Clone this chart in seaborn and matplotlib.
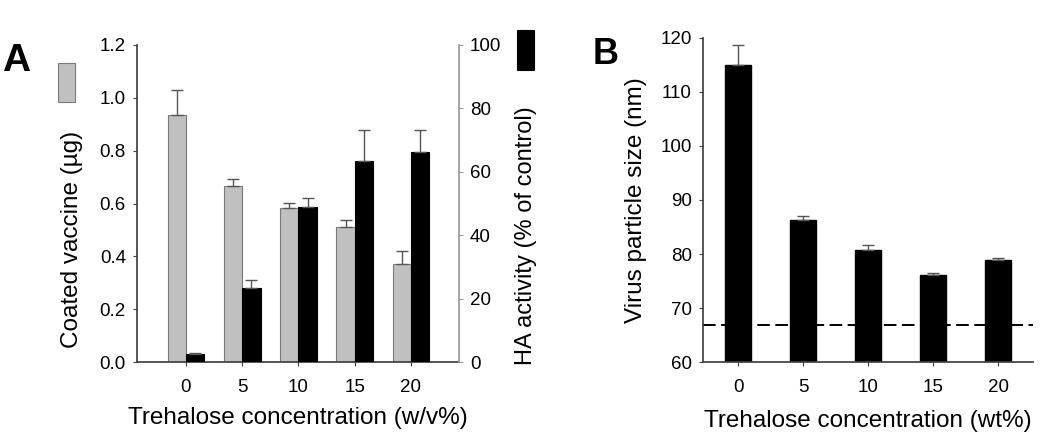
import matplotlib
matplotlib.use("Agg")
import matplotlib.pyplot as plt
import matplotlib.patches as mpatches
import numpy as np
import pandas as pd
import seaborn as sns

# data
conc = ["0", "5", "10", "15", "20"]
coated = [0.935, 0.668, 0.584, 0.513, 0.372]
coated_err = [0.095, 0.026, 0.017, 0.024, 0.050]
ha = [2.5, 23.3, 49.0, 63.3, 66.1]
ha_err = [0.2, 2.5, 2.7, 10.0, 7.2]
size = [114.9, 86.3, 80.7, 76.1, 78.8]
size_err = [3.7, 0.8, 0.9, 0.3, 0.5]
baseline = 66.8

sns.set_theme(style="ticks")
plt.rcParams["font.family"] = ["Liberation Sans", "DejaVu Sans"]
plt.rcParams["text.color"] = "black"
plt.rcParams["axes.labelcolor"] = "black"

GRAY = "#c0c0c0"
AXC = "#404040"
TICK = 13.5
LAB = 17.5

fig = plt.figure(figsize=(10.5, 4.41), dpi=100)
axA = fig.add_axes([0.1305, 0.179, 0.3065, 0.719])
axR = axA.twinx()
axB = fig.add_axes([0.6695, 0.179, 0.3145, 0.735])

levels = ["coated", "ha"]
dfc = pd.DataFrame({"conc": conc, "value": coated, "series": "coated"})
dfh = pd.DataFrame({"conc": conc, "value": ha, "series": "ha"})
pal = {"coated": GRAY, "ha": "black"}

sns.barplot(data=dfc, x="conc", y="value", hue="series", hue_order=levels,
            palette=pal, width=0.652, dodge=True, errorbar=None, ax=axA,
            edgecolor="#7a7a7a", linewidth=0.8, legend=False, order=conc)
sns.barplot(data=dfh, x="conc", y="value", hue="series", hue_order=levels,
            palette=pal, width=0.652, dodge=True, errorbar=None, ax=axR,
            edgecolor="black", linewidth=0.8, legend=False, order=conc)

# one-sided error bars on top of each bar, taken from the drawn bars
for ax, err in [(axA, coated_err), (axR, ha_err)]:
    bars = [p for p in ax.patches if p.get_height() > 0]
    bars.sort(key=lambda p: p.get_x())
    xs = [p.get_x() + p.get_width() / 2 for p in bars]
    ys = [p.get_height() for p in bars]
    ax.errorbar(xs, ys, yerr=[np.zeros(len(err)), err], fmt="none",
                ecolor="#555555", elinewidth=1, capsize=4, capthick=1)

axA.set_xlim(-0.871, 4.853)
axA.set_ylim(0, 1.2)
axA.set_yticks(np.arange(0, 1.21, 0.2))
axA.set_yticklabels([f"{v:.1f}" for v in np.arange(0, 1.21, 0.2)])
axR.set_ylim(0, 100)
axR.set_yticks(range(0, 101, 20))

axA.set_xlabel("Trehalose concentration (w/v%)", fontsize=LAB, labelpad=8)
axA.set_ylabel("Coated vaccine (µg)", fontsize=LAB, labelpad=12, y=0.388)
axR.set_ylabel("HA activity (% of control)", fontsize=17, labelpad=10, y=0.40)

for s in ["top"]:
    axA.spines[s].set_visible(False)
    axR.spines[s].set_visible(False)
axA.spines["right"].set_visible(False)
axR.spines["left"].set_visible(False)
axR.spines["bottom"].set_visible(False)
axR.spines["right"].set_color("#9a9a9a")
axA.spines["left"].set_color(AXC)
axA.spines["bottom"].set_color(AXC)
axA.tick_params(axis="both", labelsize=TICK, length=3, width=0.8, colors=AXC,
                labelcolor="black", pad=5)
axA.tick_params(axis="x", pad=9)
axR.tick_params(axis="y", labelsize=TICK, length=3, width=0.8, colors="#9a9a9a",
                labelcolor="black", pad=5)

# panel B
dfb = pd.DataFrame({"conc": conc, "size": size})
sns.barplot(data=dfb, x="conc", y="size", color="black", width=0.4,
            errorbar=None, ax=axB, edgecolor="black", order=conc)
bx = [p.get_x() + p.get_width() / 2 for p in axB.patches]
axB.errorbar(bx, size, yerr=[np.zeros(len(size_err)), size_err], fmt="none",
             ecolor="#555555", elinewidth=1, capsize=4, capthick=1)
axB.axhline(baseline, color="black", linestyle=(0, (6.5, 2.8)), linewidth=1.4)
axB.set_xlim(-0.54, 4.54)
axB.set_ylim(60, 120)
axB.set_yticks(range(60, 121, 10))
axB.set_xlabel("Trehalose concentration (wt%)", fontsize=LAB, labelpad=10)
axB.set_ylabel("Virus particle size (nm)", fontsize=LAB, labelpad=10)
sns.despine(ax=axB)
axB.spines["left"].set_color(AXC)
axB.spines["bottom"].set_color(AXC)
axB.tick_params(axis="both", labelsize=TICK, length=3, width=0.8, colors=AXC,
                labelcolor="black", pad=5)
axB.tick_params(axis="x", pad=9)

# panel letters and legend swatches
fig.text(0.002, 1 - 71 / 441, "A", fontsize=28, fontweight="bold", va="baseline")
fig.text(0.564, 1 - 64 / 441, "B", fontsize=26, fontweight="bold", va="baseline")
fig.patches.append(mpatches.Rectangle((58 / 1050, 1 - 102 / 441), 17 / 1050, 39 / 441,
                                      transform=fig.transFigure, facecolor=GRAY,
                                      edgecolor="#7a7a7a", linewidth=0.8))
fig.patches.append(mpatches.Rectangle((517 / 1050, 1 - 70 / 441), 17 / 1050, 40 / 441,
                                      transform=fig.transFigure, facecolor="black",
                                      edgecolor="black", linewidth=0.8))

fig.savefig("out.png", dpi=100)
